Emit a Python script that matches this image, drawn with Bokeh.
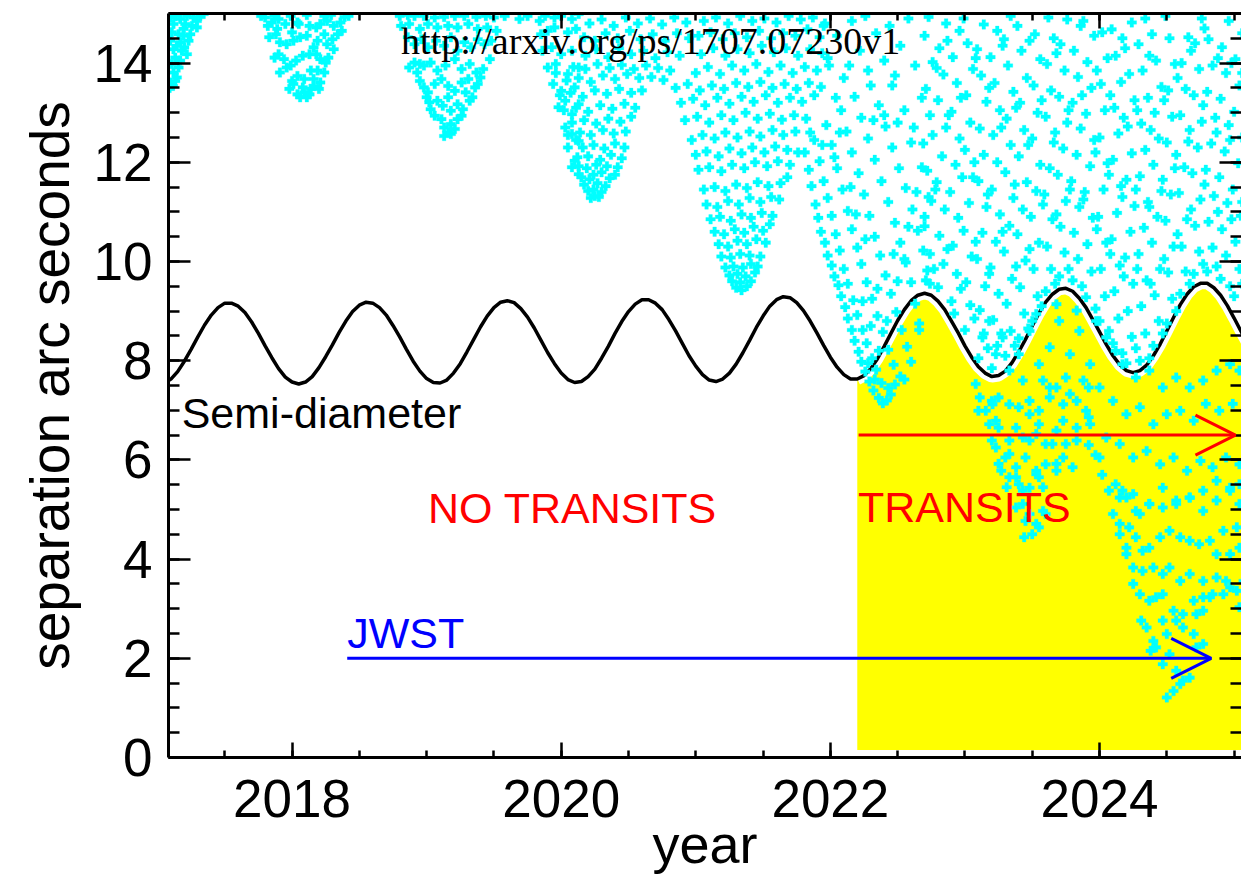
import numpy as np
from bokeh.plotting import figure
from bokeh.models import (SingleIntervalTicker, LinearAxis, Arrow, OpenHead,
                          CustomJSTickFormatter, Range1d)
from bokeh.core.properties import value
from bokeh.embed import file_html
from bokeh.resources import INLINE

# ---------------------------------------------------------------------------
# Semi-diameter (arc seconds), sampled every 0.05 yr from 2017.05 to 2025.10
# ---------------------------------------------------------------------------
semi_years = np.linspace(2017.05, 2025.10, 162)
semi_diameter = [
    7.54, 7.63, 7.78, 7.99, 8.23, 8.48, 8.72, 8.92, 9.07, 9.16,
    9.16, 9.10, 8.97, 8.78, 8.55, 8.30, 8.06, 7.84, 7.67, 7.57,
    7.53, 7.57, 7.68, 7.86, 8.08, 8.32, 8.57, 8.80, 8.99, 9.12,
    9.18, 9.16, 9.07, 8.92, 8.71, 8.48, 8.23, 7.99, 7.79, 7.64,
    7.56, 7.55, 7.61, 7.75, 7.94, 8.18, 8.43, 8.68, 8.90, 9.07,
    9.18, 9.21, 9.17, 9.05, 8.88, 8.66, 8.41, 8.16, 7.94, 7.75,
    7.62, 7.56, 7.58, 7.68, 7.83, 8.05, 8.29, 8.55, 8.79, 8.99,
    9.14, 9.23, 9.23, 9.16, 9.03, 8.83, 8.60, 8.35, 8.10, 7.89,
    7.72, 7.61, 7.58, 7.63, 7.75, 7.93, 8.16, 8.41, 8.67, 8.90,
    9.10, 9.23, 9.29, 9.27, 9.17, 9.01, 8.80, 8.56, 8.31, 8.07,
    7.87, 7.72, 7.63, 7.63, 7.70, 7.84, 8.04, 8.29, 8.55, 8.81,
    9.03, 9.21, 9.32, 9.36, 9.32, 9.20, 9.03, 8.80, 8.56, 8.30,
    8.07, 7.88, 7.75, 7.68, 7.70, 7.79, 7.96, 8.18, 8.43, 8.70,
    8.96, 9.18, 9.34, 9.44, 9.46, 9.40, 9.26, 9.07, 8.83, 8.58,
    8.33, 8.10, 7.92, 7.80, 7.76, 7.80, 7.91, 8.10, 8.33, 8.60,
    8.87, 9.13, 9.34, 9.49, 9.56, 9.56, 9.47, 9.32, 9.11, 8.86,
    8.60, 8.35,
]

# Transit window and observing windows
transit_start = 2022.20
transit_floor = 0.15
transit_arrow = (2022.21, 2025.01, 6.5)
jwst_arrow = (2018.41, 2024.83, 2.0)

# Annotations: (text, year, arcsec, colour)
labels = [
    ("Semi-diameter", 2017.18, 6.95, "black"),
    ("NO TRANSITS", 2019.01, 5.04, "red"),
    ("TRANSITS", 2022.205, 5.06, "red"),
    ("JWST", 2018.41, 2.52, "blue"),
]
source_url = ("http://arxiv.org/ps/1707.07230v1", 2018.81, 14.45)

# ---------------------------------------------------------------------------
# Predicted separations (year, arcsec)
# ---------------------------------------------------------------------------
dots_2017 = [
    (2017.095, 14.92), (2017.132, 14.95), (2017.169, 14.89), (2017.219, 14.95),
    (2017.268, 14.92), (2017.318, 14.95), (2017.119, 14.79), (2017.206, 14.79),
    (2017.256, 14.75), (2017.293, 14.72), (2017.107, 14.62), (2017.157, 14.58),
    (2017.194, 14.55), (2017.244, 14.58), (2017.095, 14.45), (2017.169, 14.42),
    (2017.231, 14.45), (2017.119, 14.28), (2017.181, 14.25), (2017.219, 14.18),
    (2017.132, 14.11), (2017.169, 14.05), (2017.107, 13.98), (2017.157, 13.91),
    (2017.119, 13.81), (2017.144, 13.71), (2017.095, 13.61), (2017.132, 13.64),
    (2017.090, 13.50), (2017.115, 13.54), (2017.293, 14.85), (2017.343, 14.99),
    (2017.194, 14.69), (2017.144, 14.35), (2017.199, 14.32),
]
dots_2018 = [
    (2017.77, 14.95), (2017.80, 14.92), (2017.87, 14.95), (2017.90, 14.89),
    (2017.99, 14.95), (2018.11, 14.97), (2018.24, 14.95), (2018.29, 14.97),
    (2018.39, 14.93), (2018.42, 14.95),
    (2017.82, 14.75), (2017.85, 14.82), (2017.89, 14.69), (2017.95, 14.79),
    (2018.00, 14.62), (2018.04, 14.82), (2018.05, 14.79), (2018.13, 14.75),
    (2018.18, 14.72), (2018.21, 14.79), (2018.26, 14.85), (2018.31, 14.75),
    (2018.36, 14.82), (2018.37, 14.65),
    (2017.83, 14.52), (2017.88, 14.58), (2017.91, 14.42), (2017.96, 14.38),
    (2018.01, 14.45), (2018.06, 14.52), (2018.11, 14.55), (2018.16, 14.32),
    (2018.19, 14.45), (2018.24, 14.58), (2018.26, 14.38), (2018.30, 14.48),
    (2018.34, 14.58), (2018.31, 14.28),
    (2017.87, 14.11), (2017.90, 14.18), (2017.94, 14.08), (2017.99, 13.95),
    (2018.03, 14.05), (2018.08, 14.15), (2018.13, 14.18), (2018.18, 14.18),
    (2018.21, 14.08), (2018.25, 14.01), (2018.27, 14.11),
    (2017.91, 13.81), (2017.96, 13.91), (2018.00, 13.64), (2018.04, 13.74),
    (2018.09, 13.68), (2018.14, 13.85), (2018.16, 13.68), (2018.19, 13.85),
    (2018.24, 13.81), (2018.21, 13.61),
    (2017.98, 13.48), (2018.01, 13.58), (2018.04, 13.37), (2018.08, 13.51),
    (2018.11, 13.31), (2018.09, 13.41), (2018.14, 13.48), (2018.16, 13.54),
    (2018.20, 13.48), (2018.06, 13.31), (2018.13, 13.37),
]
dots_2019 = [
    (2018.80, 14.95), (2018.86, 14.97), (2018.91, 14.95), (2018.98, 14.95),
    (2019.06, 14.92), (2019.13, 14.93), (2019.21, 14.95), (2019.28, 14.95),
    (2019.37, 14.93), (2019.44, 14.95), (2019.50, 14.92),
    (2018.81, 14.75), (2018.87, 14.79), (2018.95, 14.69), (2019.01, 14.79),
    (2019.08, 14.72), (2019.16, 14.75), (2019.23, 14.72), (2019.31, 14.79),
    (2019.38, 14.69), (2019.45, 14.72), (2019.52, 14.65),
    (2018.86, 14.52), (2018.91, 14.38), (2018.96, 14.48), (2019.01, 14.32),
    (2019.07, 14.45), (2019.13, 14.35), (2019.18, 14.52), (2019.23, 14.25),
    (2019.28, 14.42), (2019.33, 14.32), (2019.38, 14.48), (2019.43, 14.38),
    (2019.48, 14.45), (2018.91, 14.01), (2018.95, 13.98),
    (2018.87, 13.91), (2018.93, 13.81), (2018.98, 13.95), (2019.03, 14.01),
    (2019.08, 13.85), (2019.14, 13.95), (2019.21, 14.08), (2019.26, 13.88),
    (2019.32, 13.98), (2019.37, 13.81), (2019.42, 13.88), (2019.47, 14.08),
    (2018.95, 13.64), (2018.98, 13.51), (2019.01, 13.41), (2019.06, 13.58),
    (2019.11, 13.68), (2019.16, 13.54), (2019.21, 13.44), (2019.26, 13.61),
    (2019.31, 13.68), (2019.36, 13.51), (2019.40, 13.71), (2019.38, 13.58),
    (2019.00, 13.31), (2019.02, 13.21), (2019.03, 13.07), (2019.08, 13.24),
    (2019.12, 13.14), (2019.16, 13.31), (2019.18, 13.04), (2019.23, 13.17),
    (2019.27, 13.07), (2019.32, 13.24), (2019.34, 13.31), (2019.29, 13.41),
    (2019.06, 12.94), (2019.11, 12.87), (2019.13, 12.70), (2019.16, 12.60),
    (2019.18, 12.77), (2019.21, 12.67), (2019.23, 12.87), (2019.26, 12.94),
    (2019.13, 12.53), (2019.18, 12.57),
]
dots_2020 = [
    (2019.58, 14.95), (2019.69, 14.89), (2019.75, 14.95), (2019.84, 14.85),
    (2019.88, 14.95), (2019.95, 14.92), (2020.00, 14.95), (2020.08, 14.89),
    (2020.13, 14.99), (2019.85, 14.58), (2019.90, 14.65), (2019.95, 14.72),
    (2020.05, 14.62), (2020.11, 14.69), (2019.86, 14.25), (2019.93, 14.32),
    (2020.00, 14.18), (2020.08, 14.25), (2019.90, 13.91), (2019.96, 13.98),
    (2020.05, 13.78), (2020.13, 13.91), (2019.94, 13.58), (2020.00, 13.44),
    (2020.10, 13.51), (2019.98, 13.11), (2020.03, 13.24), (2020.08, 12.97),
    (2020.13, 13.17), (2020.03, 12.70), (2020.08, 12.57), (2020.13, 12.43),
    (2020.05, 12.30), (2020.10, 12.03), (2020.13, 11.76), (2020.08, 11.90),
    (2020.22, 11.28), (2020.25, 11.32), (2020.28, 11.30), (2020.20, 11.42),
    (2020.24, 11.45), (2020.30, 11.40), (2020.17, 11.55), (2020.27, 11.58),
    (2020.33, 11.52), (2020.15, 11.70), (2020.21, 11.66), (2020.36, 11.68),
    (2020.40, 11.75), (2020.24, 11.75), (2020.30, 11.80),
    (2020.13, 11.92), (2020.19, 11.88), (2020.26, 11.95), (2020.34, 11.92),
    (2020.42, 11.90), (2020.12, 12.10), (2020.20, 12.12), (2020.29, 12.05),
    (2020.37, 12.15), (2020.45, 12.08), (2020.16, 12.30), (2020.24, 12.35),
    (2020.32, 12.28), (2020.40, 12.38), (2020.47, 12.30), (2020.11, 12.45),
    (2020.05, 12.55), (2020.14, 12.60), (2020.22, 12.55), (2020.31, 12.65),
    (2020.39, 12.58), (2020.48, 12.62), (2020.08, 12.80), (2020.17, 12.85),
    (2020.26, 12.78), (2020.35, 12.88), (2020.44, 12.82), (2020.52, 12.92),
    (2020.02, 13.05), (2020.11, 13.10), (2020.20, 13.02), (2020.29, 13.15),
    (2020.38, 13.08), (2020.47, 13.18), (2020.55, 13.10),
    (2019.99, 13.35), (2020.07, 13.40), (2020.16, 13.32), (2020.25, 13.45),
    (2020.34, 13.38), (2020.43, 13.48), (2020.52, 13.40), (2020.60, 13.45),
    (2020.04, 13.65), (2020.13, 13.70), (2020.22, 13.62), (2020.31, 13.75),
    (2020.40, 13.68), (2020.49, 13.78), (2020.58, 13.70), (2020.67, 13.72),
    (2020.76, 13.66), (2019.96, 13.80), (2020.09, 13.92), (2020.18, 13.88),
    (2020.27, 13.98), (2020.36, 13.90), (2020.45, 13.96), (2020.54, 13.88),
    (2020.63, 13.95), (2020.72, 13.90), (2020.81, 13.85),
    (2020.18, 14.15), (2020.26, 14.28), (2020.35, 14.12), (2020.43, 14.30),
    (2020.52, 14.18), (2020.61, 14.25), (2020.70, 14.10), (2020.79, 14.22),
    (2020.88, 14.15), (2020.17, 14.52), (2020.25, 14.45), (2020.33, 14.60),
    (2020.42, 14.50), (2020.51, 14.65), (2020.59, 14.48), (2020.68, 14.58),
    (2020.77, 14.45), (2020.86, 14.60), (2020.95, 14.50), (2020.21, 14.80),
    (2020.30, 14.88), (2020.39, 14.75), (2020.48, 14.92), (2020.57, 14.80),
    (2020.66, 14.90), (2020.75, 14.78), (2020.84, 14.92), (2020.93, 14.82),
]
dots_2021 = [
    (2021.30, 9.47), (2021.34, 9.42), (2021.38, 9.50), (2021.41, 9.60),
    (2021.27, 9.60), (2021.33, 9.58), (2021.25, 9.72), (2021.31, 9.75),
    (2021.37, 9.70), (2021.44, 9.78), (2021.28, 9.90), (2021.35, 9.88),
    (2021.41, 9.95), (2021.46, 9.90), (2021.22, 9.88),
    (2021.19, 10.10), (2021.26, 10.08), (2021.33, 10.15), (2021.40, 10.12),
    (2021.48, 10.10), (2021.17, 10.35), (2021.24, 10.30), (2021.31, 10.42),
    (2021.38, 10.35), (2021.45, 10.45), (2021.52, 10.38), (2021.14, 10.60),
    (2021.21, 10.55), (2021.29, 10.65), (2021.36, 10.58), (2021.43, 10.70),
    (2021.50, 10.62), (2021.55, 10.75),
    (2021.11, 10.85), (2021.18, 10.90), (2021.26, 10.82), (2021.34, 10.95),
    (2021.41, 10.88), (2021.49, 10.98), (2021.57, 10.92), (2021.08, 11.15),
    (2021.16, 11.10), (2021.24, 11.22), (2021.32, 11.15), (2021.40, 11.28),
    (2021.48, 11.20), (2021.56, 11.30), (2021.62, 11.25), (2021.06, 11.45),
    (2021.14, 11.50), (2021.22, 11.42), (2021.30, 11.55), (2021.38, 11.48),
    (2021.46, 11.60), (2021.54, 11.52), (2021.63, 11.58), (2021.68, 11.70),
    (2021.02, 11.85), (2021.10, 11.90), (2021.19, 11.82), (2021.27, 11.95),
    (2021.36, 11.88), (2021.44, 12.00), (2021.53, 11.92), (2021.61, 12.02),
    (2021.70, 11.95), (2021.00, 12.15), (2021.08, 12.22), (2021.17, 12.12),
    (2021.25, 12.28), (2021.34, 12.18), (2021.42, 12.30), (2021.51, 12.20),
    (2021.59, 12.32), (2021.68, 12.25), (2021.76, 12.20), (2020.97, 12.45),
    (2021.05, 12.55), (2021.14, 12.48), (2021.22, 12.60), (2021.31, 12.50),
    (2021.40, 12.62), (2021.48, 12.52), (2021.57, 12.65), (2021.65, 12.55),
    (2021.74, 12.62),
    (2020.92, 12.85), (2021.01, 12.92), (2021.10, 12.80), (2021.19, 12.95),
    (2021.28, 12.85), (2021.37, 13.00), (2021.46, 12.88), (2021.55, 12.98),
    (2021.64, 12.86), (2021.73, 12.95), (2021.82, 12.88), (2020.89, 13.20),
    (2020.98, 13.28), (2021.07, 13.15), (2021.16, 13.30), (2021.25, 13.18),
    (2021.34, 13.32), (2021.43, 13.22), (2021.52, 13.35), (2021.61, 13.20),
    (2021.70, 13.30), (2021.79, 13.22), (2021.88, 13.35), (2020.85, 13.50),
    (2020.94, 13.58), (2021.03, 13.45), (2021.12, 13.55), (2021.21, 13.48),
    (2021.30, 13.60), (2021.39, 13.52), (2021.48, 13.62), (2021.57, 13.50),
    (2021.66, 13.58), (2021.75, 13.48), (2021.84, 13.60), (2021.93, 13.52),
    (2021.00, 13.80), (2021.09, 13.92), (2021.18, 13.78), (2021.27, 13.95),
    (2021.36, 13.85), (2021.45, 13.98), (2021.54, 13.82), (2021.63, 13.95),
    (2021.72, 13.80), (2021.81, 13.92), (2021.90, 13.85), (2021.99, 13.95),
    (2021.04, 14.18), (2021.13, 14.30), (2021.22, 14.15), (2021.31, 14.28),
    (2021.40, 14.20), (2021.49, 14.35), (2021.58, 14.22), (2021.67, 14.30),
    (2021.76, 14.15), (2021.85, 14.28), (2021.94, 14.20), (2021.02, 14.55),
    (2021.11, 14.62), (2021.20, 14.48), (2021.29, 14.60), (2021.38, 14.52),
    (2021.47, 14.65), (2021.56, 14.50), (2021.65, 14.60), (2021.74, 14.55),
    (2021.83, 14.68), (2021.92, 14.52), (2021.06, 14.85), (2021.15, 14.92),
    (2021.24, 14.80), (2021.33, 14.95), (2021.42, 14.85), (2021.51, 14.90),
    (2021.60, 14.82), (2021.69, 14.95), (2021.78, 14.88), (2021.87, 14.92),
    (2021.96, 14.80),
]
dots_2022 = [
    (2021.81, 12.20), (2021.84, 11.85), (2021.86, 11.52), (2021.89, 11.15),
    (2021.91, 10.88), (2021.93, 10.60), (2021.96, 10.38), (2021.98, 10.12),
    (2022.01, 9.92), (2022.03, 9.70), (2022.06, 9.52), (2022.08, 9.30),
    (2022.11, 9.08), (2022.13, 8.85), (2022.16, 8.62), (2022.18, 8.40),
    (2022.21, 8.18), (2022.23, 7.98), (2022.26, 7.78), (2022.29, 7.58),
    (2022.32, 7.40), (2022.36, 7.25), (2022.39, 7.14), (2022.42, 7.20),
    (2022.45, 7.32),
    (2021.88, 12.45), (2021.92, 12.02), (2021.95, 11.62), (2021.98, 11.28),
    (2022.01, 10.92), (2022.04, 10.55), (2022.07, 10.22), (2022.10, 9.85),
    (2022.13, 9.55), (2022.17, 9.22), (2022.20, 8.92), (2022.24, 8.62),
    (2022.27, 8.35), (2022.31, 8.05), (2022.34, 7.82), (2022.38, 7.55),
    (2022.43, 7.45), (2022.48, 7.52),
    (2021.97, 12.75), (2022.01, 12.35), (2022.05, 11.88), (2022.09, 11.45),
    (2022.13, 11.02), (2022.16, 10.65), (2022.20, 10.28), (2022.23, 9.95),
    (2022.27, 9.58), (2022.31, 9.25), (2022.35, 8.90), (2022.39, 8.58),
    (2022.43, 8.22), (2022.47, 7.92), (2022.52, 7.68), (2022.55, 7.62),
    (2022.08, 13.05), (2022.12, 12.62), (2022.16, 12.20), (2022.21, 11.78),
    (2022.25, 11.35), (2022.29, 10.92), (2022.33, 10.50), (2022.37, 10.12),
    (2022.41, 9.72), (2022.45, 9.35), (2022.49, 8.98), (2022.53, 8.62),
    (2022.57, 8.28), (2022.60, 7.98),
    (2022.18, 13.32), (2022.23, 12.90), (2022.28, 12.48), (2022.33, 12.05),
    (2022.38, 11.62), (2022.43, 11.20), (2022.48, 10.78), (2022.52, 10.38),
    (2022.56, 9.98), (2022.60, 9.58), (2022.63, 9.15), (2022.66, 8.75),
    (2022.66, 8.62),
    (2022.30, 13.55), (2022.36, 13.15), (2022.41, 12.72), (2022.46, 12.30),
    (2022.51, 11.88), (2022.56, 11.48), (2022.61, 11.05), (2022.65, 10.62),
    (2022.69, 10.22), (2022.72, 9.82), (2022.74, 9.55),
    (2021.85, 12.60), (2021.94, 12.35), (2022.03, 12.10), (2022.07, 12.60),
    (2022.15, 11.50), (2022.19, 10.95), (2022.26, 10.45), (2022.24, 9.20),
    (2022.30, 8.70), (2022.36, 8.20), (2022.42, 8.80), (2022.50, 9.60),
    (2022.55, 10.05), (2022.47, 10.15), (2022.58, 10.70), (2022.64, 11.40),
    (2022.70, 10.90), (2022.40, 12.95), (2022.50, 12.80), (2022.60, 12.40),
    (2022.68, 11.90), (2022.73, 11.30), (2022.35, 9.45), (2022.28, 7.95),
    (2022.33, 7.62),
    (2021.98, 14.10), (2022.05, 14.55), (2022.10, 13.70), (2022.16, 14.85),
    (2022.22, 14.25), (2022.28, 13.85), (2022.34, 14.60), (2022.40, 14.05),
    (2022.46, 13.55), (2022.52, 14.35), (2022.58, 14.90), (2022.63, 13.95),
    (2022.68, 13.30), (2022.04, 13.30), (2022.14, 13.95), (2022.26, 14.95),
    (2022.44, 14.75), (2022.55, 13.05), (2022.62, 12.70), (2021.95, 14.75),
    (2022.32, 12.85), (2022.48, 13.75),
]
dots_upper = [
    (2022.71, 9.62), (2022.74, 10.15), (2022.70, 10.71), (2022.75, 11.22),
    (2022.72, 11.83), (2022.69, 12.38), (2022.74, 12.95), (2022.71, 13.48),
    (2022.76, 14.02), (2022.70, 14.55), (2022.73, 14.93),
    (2022.80, 9.48), (2022.84, 9.95), (2022.81, 10.52), (2022.85, 11.05),
    (2022.79, 11.60), (2022.83, 12.12), (2022.86, 12.70), (2022.80, 13.25),
    (2022.84, 13.77), (2022.81, 14.30), (2022.86, 14.80),
    (2022.90, 9.20), (2022.94, 9.75), (2022.91, 10.32), (2022.95, 10.88),
    (2022.89, 11.40), (2022.93, 11.95), (2022.96, 12.48), (2022.90, 13.02),
    (2022.94, 13.60), (2022.91, 14.12), (2022.96, 14.65), (2022.92, 8.95),
    (2023.00, 8.62), (2023.04, 9.12), (2023.01, 9.58), (2023.05, 10.10),
    (2022.99, 10.62), (2023.03, 11.18), (2023.06, 11.70), (2023.00, 12.25),
    (2023.04, 12.80), (2023.01, 13.35), (2023.06, 13.88), (2023.02, 14.40),
    (2022.99, 14.90),
    (2023.10, 8.05), (2023.14, 8.55), (2023.11, 9.02), (2023.15, 9.50),
    (2023.09, 10.05), (2023.13, 10.58), (2023.16, 11.10), (2023.10, 11.62),
    (2023.14, 12.15), (2023.11, 12.68), (2023.16, 13.22), (2023.12, 13.75),
    (2023.09, 14.28), (2023.14, 14.78),
    (2023.20, 7.85), (2023.24, 8.30), (2023.21, 8.82), (2023.25, 9.35),
    (2023.19, 9.88), (2023.23, 10.40), (2023.26, 10.95), (2023.20, 11.45),
    (2023.24, 12.00), (2023.21, 12.55), (2023.26, 13.05), (2023.22, 13.60),
    (2023.19, 14.12), (2023.24, 14.65),
    (2023.30, 8.10), (2023.34, 8.60), (2023.31, 9.15), (2023.35, 9.65),
    (2023.29, 10.20), (2023.33, 10.72), (2023.36, 11.28), (2023.30, 11.80),
    (2023.34, 12.35), (2023.31, 12.88), (2023.36, 13.42), (2023.32, 13.95),
    (2023.29, 14.48), (2023.34, 14.95),
    (2023.40, 8.45), (2023.44, 8.95), (2023.41, 9.48), (2023.45, 10.02),
    (2023.39, 10.55), (2023.43, 11.05), (2023.46, 11.60), (2023.40, 12.12),
    (2023.44, 12.65), (2023.41, 13.20), (2023.46, 13.70), (2023.42, 14.25),
    (2023.39, 14.75),
    (2023.50, 8.80), (2023.54, 9.30), (2023.51, 9.85), (2023.55, 10.38),
    (2023.49, 10.90), (2023.53, 11.42), (2023.56, 11.95), (2023.50, 12.48),
    (2023.54, 13.00), (2023.51, 13.55), (2023.56, 14.08), (2023.52, 14.58),
    (2023.60, 9.40), (2023.64, 9.85), (2023.61, 10.30), (2023.65, 10.85),
    (2023.59, 11.35), (2023.63, 11.88), (2023.66, 12.40), (2023.60, 12.92),
    (2023.64, 13.45), (2023.61, 13.98), (2023.66, 14.50), (2023.62, 14.92),
    (2023.70, 9.70), (2023.74, 10.18), (2023.71, 10.70), (2023.75, 11.22),
    (2023.69, 11.75), (2023.73, 12.28), (2023.76, 12.80), (2023.70, 13.32),
    (2023.74, 13.85), (2023.71, 14.38), (2023.76, 14.88),
    (2023.80, 9.62), (2023.84, 10.05), (2023.81, 10.58), (2023.85, 11.10),
    (2023.79, 11.62), (2023.83, 12.15), (2023.86, 12.68), (2023.80, 13.20),
    (2023.84, 13.72), (2023.81, 14.25), (2023.86, 14.75),
    (2023.90, 9.28), (2023.94, 9.80), (2023.91, 10.35), (2023.95, 10.88),
    (2023.89, 11.40), (2023.93, 11.92), (2023.96, 12.45), (2023.90, 12.98),
    (2023.94, 13.50), (2023.91, 14.02), (2023.96, 14.55),
    (2024.00, 8.80), (2024.04, 9.30), (2024.01, 9.85), (2024.05, 10.38),
    (2023.99, 10.90), (2024.03, 11.45), (2024.06, 11.98), (2024.00, 12.50),
    (2024.04, 13.05), (2024.01, 13.58), (2024.06, 14.10), (2024.02, 14.62),
    (2024.10, 8.35), (2024.14, 8.85), (2024.11, 9.40), (2024.15, 9.92),
    (2024.09, 10.45), (2024.13, 10.98), (2024.16, 11.52), (2024.10, 12.05),
    (2024.14, 12.58), (2024.11, 13.10), (2024.16, 13.62), (2024.12, 14.15),
    (2024.09, 14.68),
    (2024.20, 7.95), (2024.24, 8.48), (2024.21, 9.00), (2024.25, 9.55),
    (2024.19, 10.08), (2024.23, 10.60), (2024.26, 11.12), (2024.20, 11.65),
    (2024.24, 12.18), (2024.21, 12.72), (2024.26, 13.25), (2024.22, 13.78),
    (2024.19, 14.30), (2024.24, 14.82),
    (2024.30, 8.00), (2024.34, 8.55), (2024.31, 9.10), (2024.35, 9.62),
    (2024.29, 10.15), (2024.33, 10.68), (2024.36, 11.20), (2024.30, 11.72),
    (2024.34, 12.25), (2024.31, 12.78), (2024.36, 13.30), (2024.32, 13.85),
    (2024.29, 14.38), (2024.34, 14.90),
    (2024.40, 8.30), (2024.44, 8.80), (2024.41, 9.32), (2024.45, 9.85),
    (2024.39, 10.38), (2024.43, 10.90), (2024.46, 11.42), (2024.40, 11.95),
    (2024.44, 12.48), (2024.41, 13.00), (2024.46, 13.52), (2024.42, 14.05),
    (2024.39, 14.58),
    (2024.50, 8.75), (2024.54, 9.25), (2024.51, 9.78), (2024.55, 10.30),
    (2024.49, 10.82), (2024.53, 11.35), (2024.56, 11.88), (2024.50, 12.40),
    (2024.54, 12.92), (2024.51, 13.45), (2024.56, 13.98), (2024.52, 14.50),
    (2024.49, 14.95),
    (2024.60, 9.35), (2024.64, 9.80), (2024.61, 10.30), (2024.65, 10.85),
    (2024.59, 11.38), (2024.63, 11.90), (2024.66, 12.42), (2024.60, 12.95),
    (2024.64, 13.48), (2024.61, 14.00), (2024.66, 14.52),
    (2024.70, 9.75), (2024.74, 10.20), (2024.71, 10.72), (2024.75, 11.25),
    (2024.69, 11.78), (2024.73, 12.30), (2024.76, 12.82), (2024.70, 13.35),
    (2024.74, 13.88), (2024.71, 14.40), (2024.76, 14.90),
    (2024.80, 9.80), (2024.84, 10.28), (2024.81, 10.80), (2024.85, 11.32),
    (2024.79, 11.85), (2024.83, 12.38), (2024.86, 12.90), (2024.80, 13.42),
    (2024.84, 13.95), (2024.81, 14.48),
    (2024.90, 9.65), (2024.94, 10.12), (2024.91, 10.65), (2024.95, 11.18),
    (2024.89, 11.70), (2024.93, 12.22), (2024.96, 12.75), (2024.90, 13.28),
    (2024.94, 13.80), (2024.91, 14.32), (2024.96, 14.85),
    (2025.00, 9.30), (2025.04, 9.85), (2025.01, 10.40), (2025.05, 10.92),
    (2024.99, 11.45), (2025.03, 11.98), (2025.06, 12.50), (2025.00, 13.02),
    (2025.04, 13.55), (2025.01, 14.08), (2025.06, 14.60),
    (2022.77, 9.85), (2022.78, 11.45), (2022.76, 12.55), (2022.79, 13.90),
    (2022.87, 10.25), (2022.88, 12.95), (2022.87, 14.45), (2022.97, 9.45),
    (2022.98, 11.70), (2022.97, 13.30), (2023.07, 8.85), (2023.08, 10.40),
    (2023.07, 12.00), (2023.08, 14.10), (2023.17, 8.25), (2023.18, 9.75),
    (2023.17, 11.35), (2023.18, 13.50), (2023.27, 8.55), (2023.28, 10.60),
    (2023.27, 12.70), (2023.28, 14.35), (2023.37, 8.30), (2023.38, 9.90),
    (2023.37, 11.55), (2023.38, 13.10), (2023.47, 8.65), (2023.48, 10.25),
    (2023.47, 12.35), (2023.48, 14.45), (2023.57, 9.10), (2023.58, 11.15),
    (2023.57, 13.25), (2023.67, 9.55), (2023.68, 10.95), (2023.67, 12.60),
    (2023.68, 14.20), (2023.77, 9.85), (2023.78, 11.45), (2023.77, 13.05),
    (2023.87, 9.50), (2023.88, 11.25), (2023.87, 13.35), (2023.88, 14.85),
    (2023.97, 9.05), (2023.98, 10.65), (2023.97, 12.20), (2023.98, 13.85),
    (2024.07, 8.60), (2024.08, 10.15), (2024.07, 11.75), (2024.08, 13.35),
    (2024.17, 8.15), (2024.18, 9.70), (2024.17, 11.30), (2024.18, 12.90),
    (2024.17, 14.50), (2024.27, 8.25), (2024.28, 9.85), (2024.27, 11.45),
    (2024.28, 13.05), (2024.37, 8.05), (2024.38, 9.55), (2024.37, 11.10),
    (2024.38, 12.65), (2024.37, 14.15), (2024.47, 8.55), (2024.48, 10.05),
    (2024.47, 11.65), (2024.48, 13.25), (2024.57, 9.00), (2024.58, 10.55),
    (2024.57, 12.15), (2024.58, 13.70), (2024.67, 9.55), (2024.68, 11.05),
    (2024.67, 12.65), (2024.68, 14.25), (2024.77, 9.95), (2024.78, 11.55),
    (2024.77, 13.15), (2024.78, 14.70), (2024.87, 9.90), (2024.88, 11.00),
    (2024.87, 12.60), (2024.88, 14.10), (2024.97, 9.50), (2024.98, 10.85),
    (2024.97, 12.45), (2024.98, 14.00), (2025.06, 9.55), (2025.06, 11.20),
    (2025.06, 13.80),
]
dots_2023 = [
    (2023.11, 7.26), (2023.155, 6.99), (2023.205, 7.12), (2023.25, 7.26),
    (2023.33, 7.12), (2023.40, 7.06), (2023.48, 6.92), (2023.55, 6.99),
    (2023.63, 7.26), (2023.68, 7.46), (2023.73, 7.12), (2023.83, 7.19),
    (2023.90, 6.99), (2023.18, 6.72), (2023.25, 6.65), (2023.33, 6.39),
    (2023.43, 6.45), (2023.53, 6.52), (2023.60, 6.32), (2023.68, 6.59),
    (2023.75, 6.32), (2023.83, 6.65), (2023.93, 6.72), (2023.23, 6.25),
    (2023.30, 6.05), (2023.38, 5.85), (2023.45, 6.05), (2023.53, 5.78),
    (2023.60, 5.91), (2023.68, 5.78), (2023.73, 6.05), (2023.80, 5.85),
    (2023.27, 5.78), (2023.33, 5.65), (2023.40, 5.51), (2023.48, 5.44),
    (2023.55, 5.65), (2023.43, 5.11), (2023.48, 4.91), (2023.53, 4.71),
    (2023.58, 4.97),
    (2023.13, 8.47), (2023.18, 8.80), (2023.23, 8.13), (2023.28, 8.47),
    (2023.33, 7.80), (2023.40, 8.13), (2023.48, 8.60), (2023.55, 7.93),
    (2023.63, 8.27), (2023.70, 8.80), (2023.78, 8.13), (2023.85, 8.60),
    (2023.93, 7.93), (2023.43, 7.60), (2023.58, 7.60), (2023.75, 7.66),
    (2023.88, 7.60), (2023.53, 8.94), (2023.68, 9.14), (2023.83, 9.01),
    (2023.08, 7.53), (2023.20, 7.19), (2023.48, 7.19), (2023.63, 7.46),
    (2023.78, 7.33), (2023.92, 7.46), (2023.10, 6.99), (2023.23, 6.79),
    (2023.38, 6.65), (2023.55, 6.72), (2023.73, 6.79), (2023.92, 6.86),
    (2023.20, 6.39), (2023.33, 6.12), (2023.48, 6.39), (2023.65, 6.32),
    (2023.83, 6.39), (2024.00, 6.05), (2023.25, 5.92), (2023.38, 5.65),
    (2023.53, 5.71), (2023.68, 5.92), (2023.31, 5.45), (2023.43, 5.38),
    (2023.58, 5.45), (2023.38, 5.04), (2023.45, 4.77), (2023.55, 4.64),
    (2023.60, 4.91), (2023.44, 4.44), (2023.50, 4.50), (2023.97, 6.10),
    (2024.02, 5.70), (2023.92, 6.30),
]
dots_2024 = [
    (2024.07, 5.38), (2024.15, 5.24), (2024.17, 5.38), (2024.25, 5.31),
    (2024.10, 4.91), (2024.15, 4.71), (2024.22, 4.64), (2024.30, 4.91),
    (2024.37, 5.11), (2024.47, 5.04), (2024.57, 5.18), (2024.67, 5.24),
    (2024.77, 5.38), (2024.87, 5.58), (2024.97, 5.38), (2025.04, 5.51),
    (2024.15, 4.50), (2024.20, 4.23), (2024.27, 4.44), (2024.32, 4.17),
    (2024.37, 4.23), (2024.45, 4.44), (2024.52, 4.57), (2024.60, 4.44),
    (2024.67, 4.37), (2024.74, 4.30), (2024.82, 4.37), (2024.92, 4.57),
    (2025.02, 4.64), (2025.04, 4.23), (2024.97, 4.10), (2024.87, 4.10),
    (2024.20, 4.10), (2024.25, 3.83), (2024.32, 3.76), (2024.40, 3.83),
    (2024.47, 3.70), (2024.52, 3.83), (2024.60, 3.56), (2024.67, 3.70),
    (2024.77, 3.56), (2024.87, 3.63), (2024.94, 3.56), (2025.02, 3.36),
    (2025.07, 3.56), (2024.25, 3.50), (2024.30, 3.29), (2024.37, 3.16),
    (2024.42, 3.23), (2024.47, 3.29), (2024.55, 2.96), (2024.62, 2.89),
    (2024.70, 3.16), (2024.77, 3.23), (2024.84, 3.29), (2024.92, 3.29),
    (2024.97, 3.43), (2025.04, 3.03), (2024.31, 2.76), (2024.35, 2.62),
    (2024.40, 2.35), (2024.47, 2.76), (2024.50, 2.49), (2024.57, 2.76),
    (2024.62, 2.62), (2024.72, 2.89), (2024.77, 2.96), (2024.82, 3.23),
    (2024.38, 2.15), (2024.42, 2.22), (2024.47, 1.88), (2024.52, 2.08),
    (2024.57, 1.75), (2024.62, 1.55), (2024.67, 1.61), (2024.50, 1.21),
    (2024.55, 1.34), (2024.60, 1.48), (2024.72, 2.22), (2024.77, 2.29),
    (2024.70, 2.49),
    (2023.975, 8.80), (2024.05, 8.47), (2024.12, 8.20), (2024.17, 7.93),
    (2024.27, 7.66), (2024.37, 7.80), (2024.47, 7.46), (2024.57, 7.66),
    (2024.67, 7.46), (2024.77, 7.60), (2024.87, 7.80), (2024.97, 7.93),
    (2025.04, 7.80), (2024.00, 7.46), (2024.10, 7.19), (2024.20, 6.92),
    (2024.30, 7.06), (2024.40, 6.72), (2024.50, 6.92), (2024.60, 6.99),
    (2024.70, 6.79), (2024.79, 7.13), (2024.89, 6.99), (2024.99, 7.13),
    (2024.05, 6.45), (2024.15, 6.32), (2024.25, 6.05), (2024.35, 6.18),
    (2024.45, 5.91), (2024.55, 6.05), (2024.65, 5.78), (2024.75, 5.98),
    (2024.84, 5.85), (2024.94, 6.05), (2025.04, 5.91), (2024.12, 5.51),
    (2024.20, 5.24), (2024.27, 4.97), (2024.37, 5.11), (2024.47, 5.44),
    (2024.57, 5.11), (2024.67, 5.24), (2024.77, 4.97), (2024.87, 5.18),
    (2024.97, 5.44), (2025.04, 5.11),
]

all_dots = (dots_2017 + dots_2018 + dots_2019 + dots_2020 + dots_2021
            + dots_2022 + dots_upper + dots_2023 + dots_2024)
dot_year = [d[0] for d in all_dots]
dot_sep = [d[1] for d in all_dots]

# ---------------------------------------------------------------------------
# Figure
# ---------------------------------------------------------------------------
SANS = "Liberation Sans"
p = figure(width=1241, height=877,
           x_range=Range1d(2017.082, 2025.055), y_range=Range1d(0, 15),
           output_backend="svg", toolbar_location=None,
           min_border_left=168, min_border_right=0,
           min_border_top=13, min_border_bottom=120,
           background_fill_color="white", border_fill_color="white")
p.xgrid.visible = False
p.ygrid.visible = False
p.outline_line_color = None

x_ticker = SingleIntervalTicker(interval=2, num_minor_ticks=4)
y_ticker = SingleIntervalTicker(interval=2, num_minor_ticks=4)


def style_axis(ax, major, minor):
    ax.axis_line_color = "black"
    ax.axis_line_width = 3
    ax.major_tick_in = major
    ax.major_tick_out = 0
    ax.minor_tick_in = minor
    ax.minor_tick_out = 0
    ax.major_tick_line_width = 2.5
    ax.minor_tick_line_width = 2.5
    ax.major_tick_line_color = "black"
    ax.minor_tick_line_color = "black"
    ax.major_label_text_font = SANS
    ax.major_label_text_color = "black"
    ax.axis_label_text_font = SANS
    ax.axis_label_text_font_style = "normal"
    ax.axis_label_text_color = "black"


xa = p.xaxis[0]
xa.ticker = x_ticker
style_axis(xa, 15, 7)
xa.major_label_text_font_size = "53px"
xa.major_label_standoff = 22
xa.axis_label = "year"
xa.axis_label_text_font_size = "54px"
xa.axis_label_standoff = -6

ya = p.yaxis[0]
ya.ticker = y_ticker
style_axis(ya, 22, 11)
ya.major_label_text_font_size = "53px"
ya.major_label_standoff = 16
ya.axis_label = "separation arc seconds"
ya.axis_label_text_font_size = "55px"
ya.axis_label_standoff = 10

blank = CustomJSTickFormatter(code="return ''")
top_axis = LinearAxis(ticker=x_ticker, formatter=blank)
style_axis(top_axis, 15, 7)
top_axis.major_label_text_font_size = "0px"
top_axis.major_label_standoff = 0
p.add_layout(top_axis, "above")

# right-hand ticks only; the frame edge itself falls at the page edge
right_axis = LinearAxis(ticker=y_ticker, formatter=blank)
style_axis(right_axis, 22, 11)
right_axis.axis_line_color = None
right_axis.major_label_text_font_size = "0px"
right_axis.major_label_standoff = 0
p.add_layout(right_axis, "right")

# Transit window shading below the semi-diameter curve
semi_years_arr = np.asarray(semi_years)
semi_arr = np.asarray(semi_diameter)
in_transit = semi_years_arr >= transit_start - 1e-9
p.varea(x=semi_years_arr[in_transit], y1=transit_floor,
        y2=semi_arr[in_transit], fill_color="#ffff00")
p.line(semi_years_arr[in_transit], semi_arr[in_transit],
       line_color="white", line_width=12)

# Semi-diameter curve
p.line(semi_years_arr, semi_arr, line_color="black", line_width=3.5)

# Separations
p.scatter(dot_year, dot_sep, marker="plus", size=9.5,
          fill_color="#00ffff", line_color="#00ffff", line_width=0.3)

# Arrows
x0, x1, yv = transit_arrow
p.add_layout(Arrow(end=OpenHead(size=40, line_color="red", line_width=3),
                   x_start=x0, y_start=yv, x_end=x1, y_end=yv,
                   line_color="red", line_width=3))
x0, x1, yv = jwst_arrow
p.add_layout(Arrow(end=OpenHead(size=40, line_color="blue", line_width=3),
                   x_start=x0, y_start=yv, x_end=x1, y_end=yv,
                   line_color="blue", line_width=3))

# Labels
p.text(x=[l[1] for l in labels], y=[l[2] for l in labels],
       text=[l[0] for l in labels], text_color=[l[3] for l in labels],
       text_font=value(SANS), text_font_size="43px",
       text_align="left", text_baseline="alphabetic")
p.text(x=[source_url[1]], y=[source_url[2]], text=[source_url[0]],
       text_color="black", text_font=value("Liberation Serif"),
       text_font_size="38px", text_align="left", text_baseline="alphabetic")

open("out.html", "w").write(file_html(p, INLINE))
